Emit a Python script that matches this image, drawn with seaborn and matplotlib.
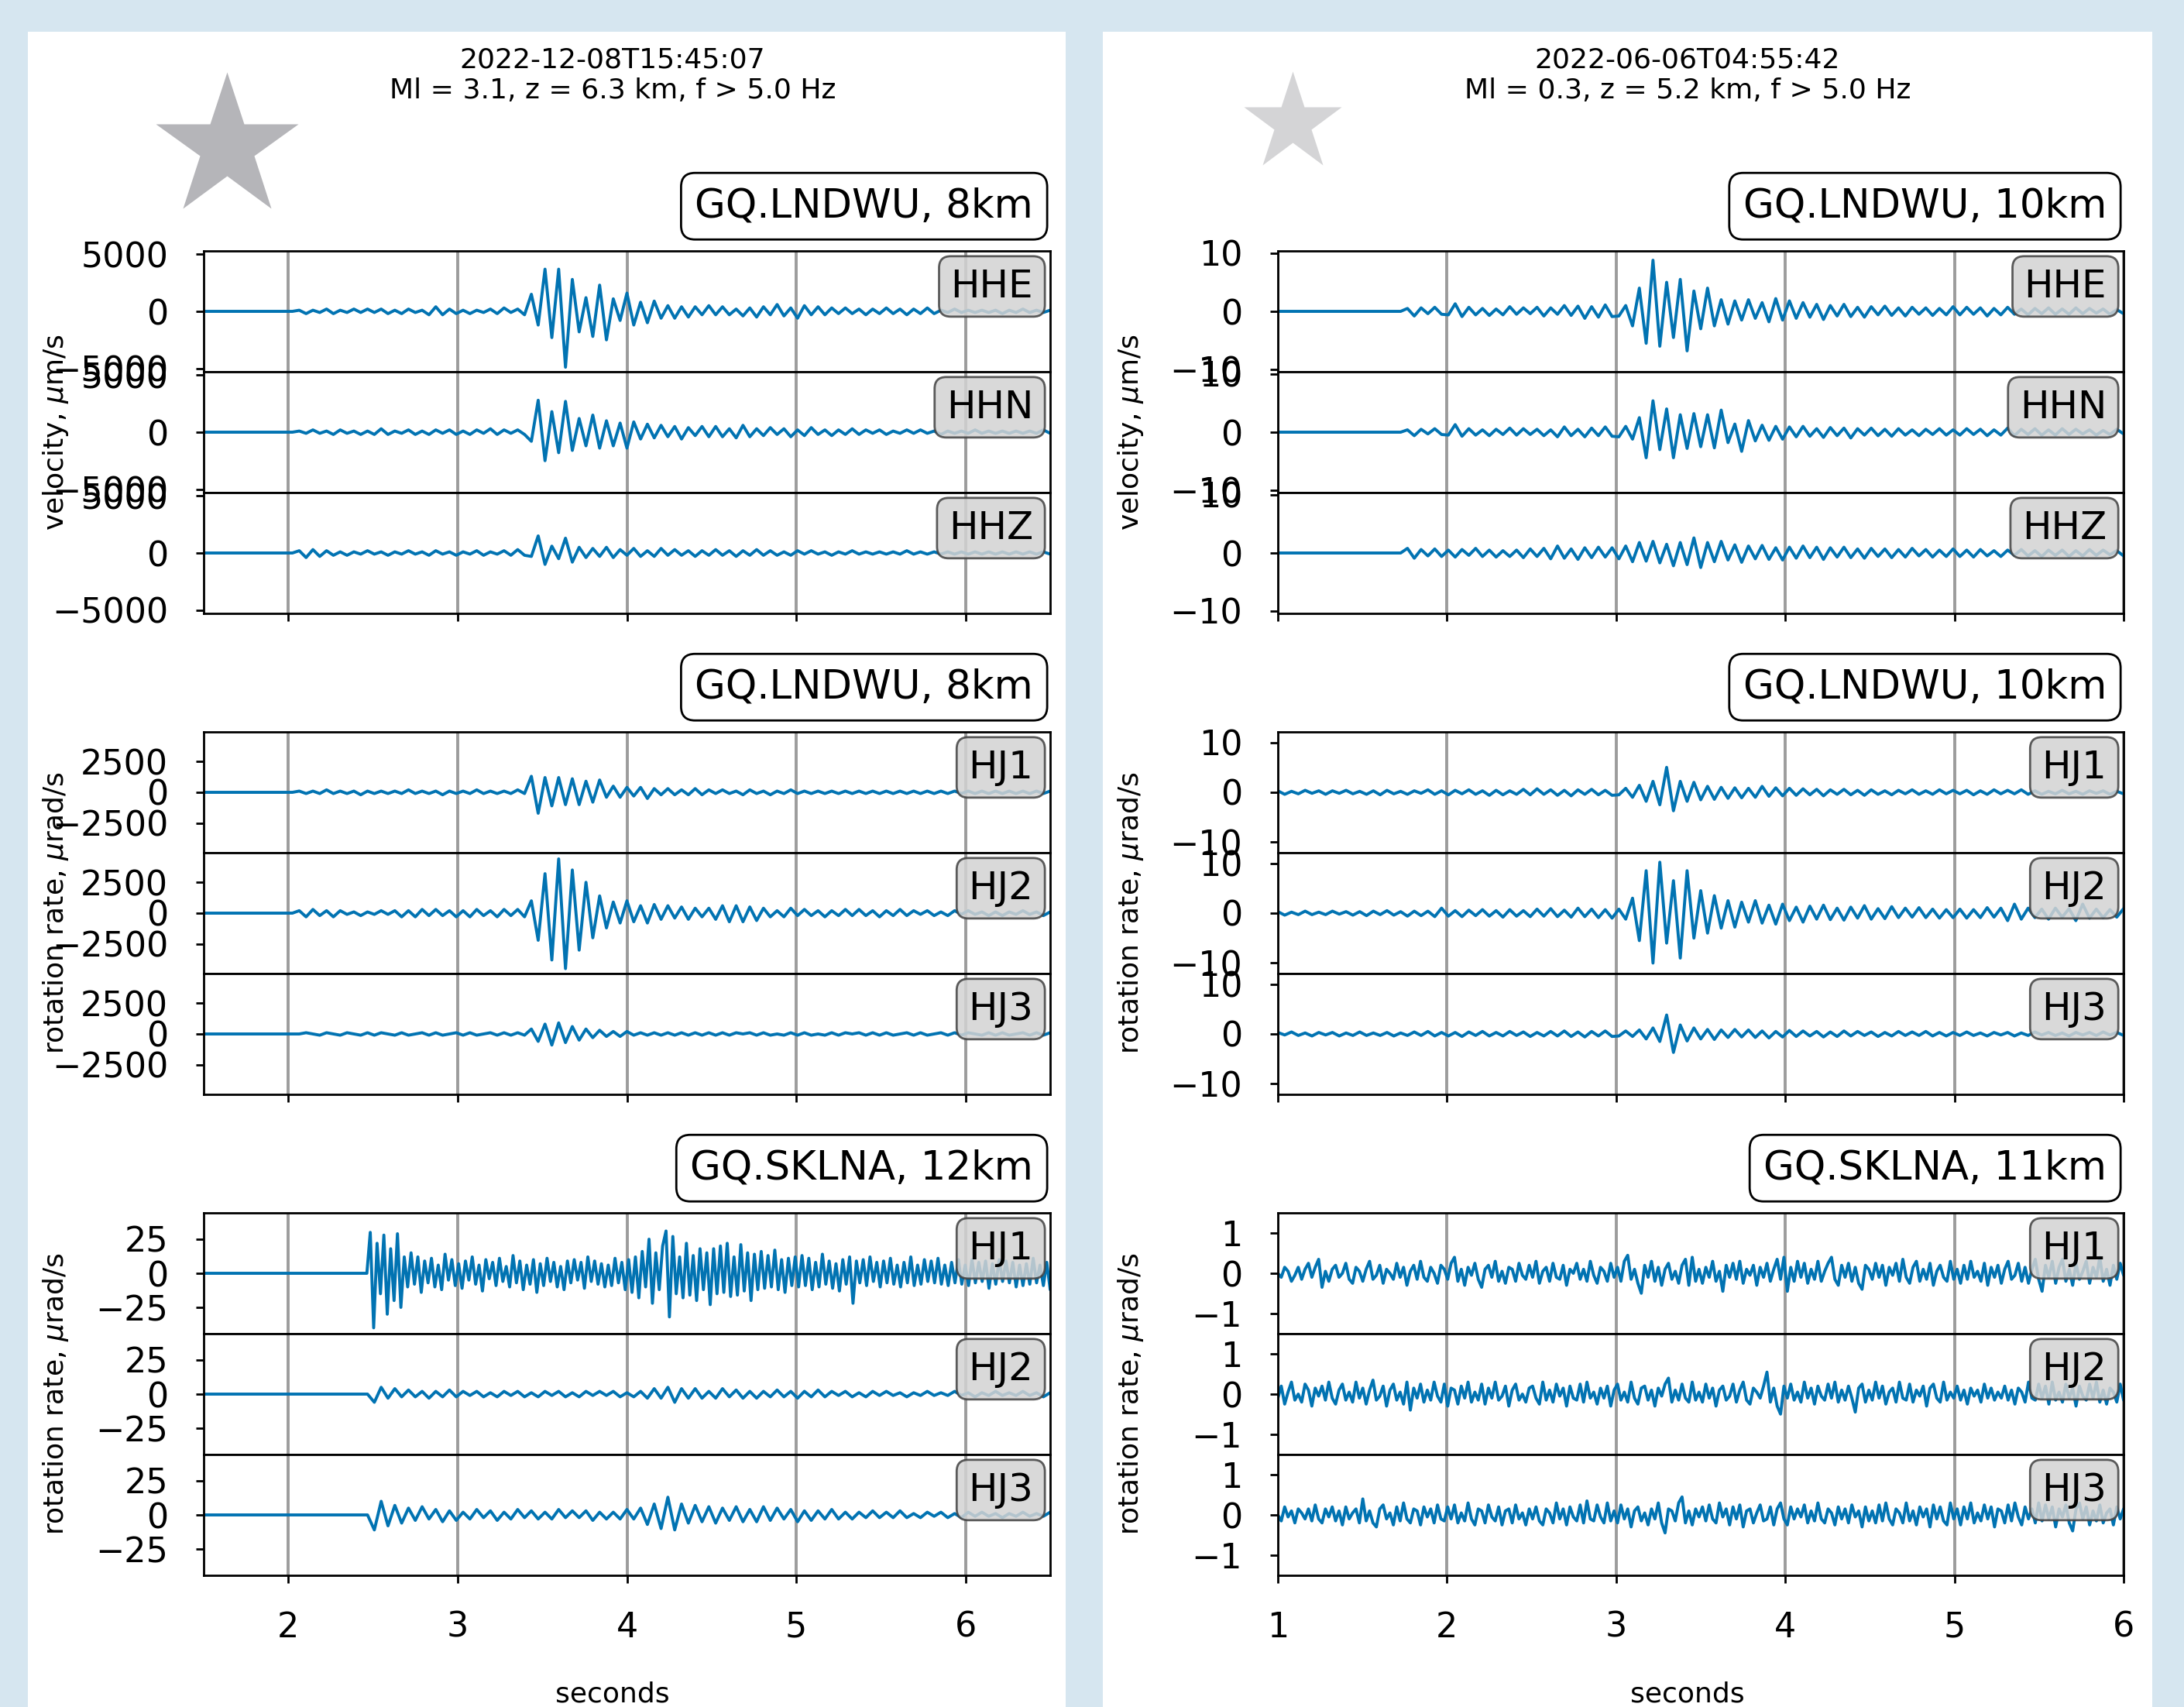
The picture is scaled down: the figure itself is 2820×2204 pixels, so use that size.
import numpy as np
import matplotlib
matplotlib.use("Agg")
import matplotlib.pyplot as plt
from matplotlib.patches import Rectangle
import seaborn as sns

### DATA ###
# Traces are read off the picture: values at a regular step over a 5 s window
# (0.04 s, or 0.02 s for the noisy ones), stored as integers in a per-group unit.

# --- event A : 2022-12-08T15:45:07, window 1.5 .. 6.5 s ---
A_T0 = 1.5
A_TITLE = "2022-12-08T15:45:07\nMl = 3.1, z = 6.3 km, f > 5.0 Hz"
A_STATIONS = ["GQ.LNDWU, 8km", "GQ.LNDWU, 8km", "GQ.SKLNA, 12km"]

A_VEL_UNIT = 100  # um/s
a_hhe = ([0] * 14 + [1, -2, 1, -1, 2, -2, 1, -1, 2, -1, 2]
         + [-1, 2, -2, 1, -2, 2, -1, 1, -3, 4, -3, 2, -2, 1, -2, 1, -1, 2, -2, 3, -1, 2, -3, 15, -12]
         + [37, -23, 37, -49, 28, -18, 12, -22, 23, -25, 11, -8, 16, -12, 8, -10, 9, -6, 5, -6, 4, -5, 4, -3, 5]
         + [-3, 4, -3, 2, -4, 3, -5, 4, -3, 6, -4, 3, -6, 5, -3, 4, -3, 3, -2, 3, -2, 2, -3, 2, -2]
         + [3, -2, 2, -3, 2, -2, 3, -2, 1, -1, 2, -1, 1, -1, 1, -1, 1, -2, 1, -1, 2, -1, 1, -1, 1])
a_hhn = ([0] * 14 + [1, -1, 2, -1, 1, -2, 2, -1, 1, -2, 1]
         + [-2, 3, -2, 1, -1, 2, -2, 1, -2, 2, -1, 2, -2, 1, -2, 2, -1, 3, -2, 2, -1, 2, -2, -8, 28]
         + [-25, 18, -18, 27, -16, 12, -12, 15, -14, 10, -12, 8, -14, 9, -6, 7, -5, 6, -4, 5, -6, 4, -3, 5, -4]
         + [5, -4, 3, -5, 6, -4, 3, -3, 4, -2, 3, -4, 2, -3, 4, -2, 2, -3, 2, -2, 3, -2, 2, -1, 2]
         + [-2, 1, -1, 2, -1, 2, -1, 1, -2, 1, -1, 1, -1, 2, -1, 1, -1, 1, -1, 1, -1, 1, -1, 2, -1])
a_hhz = ([0] * 14 + [2, -4, 3, -3, 2, -2, 1, -2, 1, -1, 2]
         + [-1, 1, -2, 1, -1, 2, -1, 1, -2, 2, -1, 1, -2, 1, -1, 2, -2, 1, -1, 2, -2, 3, -2, -3, 15]
         + [-10, 6, -5, 13, -8, 5, -4, 4, -3, 5, -4, 3, -2, 4, -3, 2, -3, 4, -2, 3, -2, 2, -3, 2, -2]
         + [3, -2, 2, -3, 2, -2, 3, -2, 2, -2, 1, -2, 2, -1, 2, -1, 1, -2, 1, -1, 2, -1, 1, -1, 1]
         + [-1, 1, -1, 2, -1, 1, -1, 1, -1, 1, -1, 1, -1, 1, -1, 1, -1, 1, -1, 1, -1, 1, -1, 1, -1])

A_ROT_UNIT = 100  # urad/s
a_hj1 = ([0] * 14 + [1, -1, 1, -1, 2, -1, 1, -1, 1, -2, 1]
         + [-1, 1, -1, 1, -1, 2, -1, 1, -1, 1, -2, 1, -1, 1, -1, 2, -1, 1, -1, 1, -1, 2, -1, 13, -17]
         + [12, -11, 12, -10, 11, -10, 9, -8, 10, -4, 5, -4, 4, -3, 4, -5, 3, -2, 3, -2, 2, -2, 3, -2, 2]
         + [-1, 2, -1, 1, -2, 2, -1, 1, -2, 1, -1, 2, -1, 1, -1, 1, -1, 1, -1, 1, -1, 1, -1, 1, -1]
         + [1, -1, 1, -1, 1, -1, 1, -1, 1, -1, 1, -1, 1, -1, 1, -1, 1, -1, 1, -1, 1, -1, 1, -1, 1])
a_hj2 = ([0] * 14 + [2, -3, 3, -2, 2, -3, 2, -1, 1, -2, 1]
         + [-1, 2, -1, 2, -3, 2, -3, 3, -2, 3, -2, 2, -3, 2, -3, 3, -2, 2, -3, 3, -2, 3, -3, 10, -22]
         + [32, -38, 44, -45, 35, -30, 25, -20, 14, -12, 9, -8, 10, -7, 6, -8, 7, -5, 6, -4, 5, -5, 4, -3, 4]
         + [-5, 6, -7, 6, -7, 5, -6, 4, -3, 2, -3, 4, -2, 3, -2, 2, -3, 2, -2, 3, -2, 3, -2, 2, -3]
         + [2, -2, 3, -2, 2, -1, 2, -2, 1, -2, 2, -1, 2, -1, 1, -2, 1, -2, 1, -1, 2, -1, 1, -2, 1])
a_hj3 = ([0] * 14 + [0, 1, 0, -1, 1, 0, -1, 1, 0, -1, 1]
         + [-1, 1, 0, -1, 1, -1, 0, 1, -1, 1, -1, 0, 1, -1, 1, -1, 0, 1, -1, 1, -1, 1, -1, 4, -6]
         + [8, -9, 9, -7, 6, -5, 4, -3, 3, -2, 2, -2, 2, -1, 1, -1, 1, -1, 1, -1, 1, -1, 1, -1, 1]
         + [-1, 1, -1, 1, 0, 1, -1, 1, -1, 0, -1, 1, -1, 1, -1, 0, -1, 1, -1, 1, 0, 1, -1, 1, -1]
         + [1, -1, 0, 1, -1, 1, -1, 0, 1, -1, 1, -1, 1, 0, -1, 1, -1, 1, -1, 0, 1, -1, 1, -1, 1])

A_SKL_UNIT = 1  # urad/s
a_skl1 = ([0] * 25
          + [0] * 24 + [30]
          + [-40, 22, -15, 28, -30, 18, -20, 29, -25, 12, -10, 15, -8, 12, -14, 9, -7, 11, -10, 6, -12, 14, -5, 10, -9]
          + [7, -11, 9, -5, 12, -8, 6, -13, 10, -4, 8, -9, 11, -6, 5, -10, 13, -7, 9, -12, 6, -8, 10, -14, 7]
          + [-9, 11, -6, 8, -10, 5, -12, 9, -7, 10, -5, 8, -11, 12, -6, 9, -8, 7, -10, 6, -9, 11, -7, 8, -12]
          + [10, -14, 12, -18, 16, -10, 25, -22, 15, -12, 20, 31, -32, 27, -15, 12, -18, 22, -16, 13, -20, 18, -12, 15, -23]
          + [18, -15, 20, -14, 22, -17, 12, -16, 21, -13, 15, -20, 14, -12, 16, -11, 13, -10, 17, -12, 10, -14, 11, -9, 12]
          + [-10, 13, -9, 11, -12, 8, -10, 14, -8, 9, -11, 7, -13, 10, -8, 12, -22, 9, -7, 10, -9, 12, -6, 8, -10]
          + [9, -7, 11, -8, 6, -10, 8, -7, 12, -9, 6, -8, 10, -6, 9, -7, 11, -8, 6, -9, 8, -7, 10, -8, 6]
          + [-9, 10, -7, 8, -6, 9, -11, 7, -8, 10, -6, 9, -7, 8, -10, 6, -9, 7, -8, 11, -7, 6, -9, 8, -12])
a_skl2 = ([0] * 25
          + [-6, 5, -3, 4, -2, 3, -2, 2, -3, 2, -2, 3, -2, 2, -1, 2, -2, 1, -2, 2, -1, 2, -2, 1, -2]
          + [2, -1, 2, -2, 1, -2, 2, -1, 2, -1, 2, -2, 1, -2, 2, -3, 4, -3, 5, -6, 4, -3, 4, -3, 2]
          + [-3, 4, -2, 3, -3, 2, -3, 2, -2, 3, -2, 2, -3, 2, -2, 3, -2, 2, -1, 2, -2, 1, -2, 2, -1]
          + [2, -1, 1, -2, 1, -1, 2, -1, 1, -1, 2, -1, 1, -2, 1, -1, 2, -1, 1, -1, 2, -1, 1, -2, 1])
a_skl3 = ([0] * 25
          + [-11, 10, -8, 7, -6, 5, -4, 6, -3, 4, -5, 3, -4, 2, -3, 4, -2, 3, -4, 2, -3, 4, -2, 3, -3]
          + [2, -3, 4, -2, 3, -2, 3, -4, 2, -3, 2, -3, 4, -3, 5, -7, 8, -10, 13, -11, 8, -6, 7, -5, 6]
          + [-6, 5, -4, 6, -5, 4, -5, 6, -4, 5, -3, 4, -5, 3, -4, 3, -3, 4, -3, 2, -3, 2, -2, 3, -2]
          + [2, -2, 3, -2, 1, -2, 2, -1, 2, -2, 1, -2, 2, -1, 2, -1, 1, -2, 1, -1, 2, -1, 1, -1, 2])

# --- event B : 2022-06-06T04:55:42, window 1 .. 6 s ---
B_T0 = 1.0
B_TITLE = "2022-06-06T04:55:42\nMl = 0.3, z = 5.2 km, f > 5.0 Hz"
B_STATIONS = ["GQ.LNDWU, 10km", "GQ.LNDWU, 10km", "GQ.SKLNA, 11km"]

B_VEL_UNIT = 0.1  # um/s
b_hhe = ([0] * 19 + [5, -8, 6, -4, 7, -5]
         + [-6, 13, -9, 7, -6, 5, -7, 4, -6, 8, -5, 6, -4, 7, -8, 6, -5, 10, -7, 9, -12, 8, -10, 11, -9]
         + [-8, 10, -25, 40, -55, 88, -60, 50, -45, 55, -68, 35, -30, 40, -25, 20, -22, 18, -15, 20, -12, 15, -18, 22, -15]
         + [18, -12, 15, -10, 12, -14, 10, -8, 12, -9, 7, -10, 8, -6, 9, -7, 6, -8, 7, -5, 6, -7, 5, -6, 8]
         + [-6, 7, -5, 6, -8, 5, -6, 7, -5, 4, -6, 5, -4, 6, -5, 4, -5, 6, -4, 5, -3, 4, -5, 3, -4])
b_hhn = ([0] * 19 + [4, -6, 5, -3, 6, -4]
         + [-5, 13, -7, 6, -5, 4, -6, 5, -4, 7, -5, 6, -4, 5, -6, 4, -8, 9, -6, 5, -8, 7, -6, 9, -7]
         + [-8, 10, -12, 25, -44, 54, -30, 40, -44, 30, -28, 32, -25, 30, -27, 38, -18, 14, -33, 20, -15, 12, -14, 10, -12]
         + [9, -8, 10, -7, 6, -9, 8, -6, 7, -10, 6, -5, 7, -6, 5, -7, 6, -5, 4, -6, 5, -4, 6, -5, 4]
         + [-5, 6, -4, 5, -6, 4, -5, 7, -6, 5, -4, 6, -5, 4, -5, 6, -4, 5, -3, 4, -5, 3, -4, 5, -3])
b_hhz = ([0] * 19 + [8, -9, 6, -5, 7, -6]
         + [5, -7, 6, -4, 8, -6, 5, -7, 4, -6, 5, -8, 7, -6, 8, -10, 12, -9, 7, -11, 9, -8, 10, -7, 9]
         + [-10, 12, -15, 18, -14, 20, -17, 15, -22, 18, -20, 26, -25, 18, -15, 20, -12, 14, -16, 12, -10, 13, -11, 9, -12]
         + [10, -9, 12, -8, 10, -11, 9, -7, 10, -8, 7, -9, 8, -6, 7, -8, 6, -7, 8, -5, 6, -7, 5, -6, 7]
         + [-6, 5, -7, 6, -5, 4, -6, 5, -4, 6, -5, 4, -6, 5, -4, 5, -6, 4, -5, 6, -4, 5, -3, 4, -5])

B_ROT_UNIT = 0.1  # urad/s
b_hj1 = ([3, -4, 2, -3, 4, -2, 3, -4, 3, -2, 4, -3, 2, -4, 3, -5, 4, -3, 2, -4, 3, -2, 5, -4, 3]
         + [-5, 4, -3, 5, -4, 3, -6, 4, -5, 3, -4, 6, -5, 7, -4, 5, -6, 4, -7, 5, -4, 6, -5, 4, -6]
         + [-5, 8, -10, 14, -18, 22, -25, 50, -37, 22, -18, 20, -15, 12, -14, 10, -12, 9, -11, 8, -10, 12, -8, 9, -7]
         + [8, -6, 7, -5, 6, -7, 5, -4, 6, -5, 4, -6, 5, -4, 3, -5, 4, -3, 5, -4, 3, -4, 5, -3, 4]
         + [-3, 4, -5, 3, -4, 5, -3, 4, -3, 5, -4, 3, -4, 2, -3, 4, -3, 2, -4, 3, -2, 3, -4, 2, -3])
b_hj2 = ([3, -4, 2, -3, 4, -3, 2, -3, 4, -2, 3, -4, 3, -5, 4, -3, 5, -4, 3, -6, 4, -5, 4, -7, 10]
         + [-6, 5, -7, 6, -5, 7, -6, 5, -8, 7, -6, 5, -7, 8, -6, 9, -7, 6, -8, 10, -7, 8, -9, 7, -10]
         + [8, -12, 30, -55, 85, -100, 102, -60, 65, -90, 85, -50, 45, -40, 35, -30, 25, -28, 22, -18, 25, -20, 16, -22, 18]
         + [-15, 12, -18, 14, -12, 16, -13, 10, -14, 12, -10, 15, -12, 9, -11, 13, -9, 10, -8, 11, -9, 8, -10, 7, -9]
         + [8, -10, 7, -9, 11, -8, 10, -15, 18, -12, 10, -9, 8, -12, 10, -8, 9, -15, 18, -10, 8, -9, 7, -8, 9])
b_hj3 = ([3, -2, 4, -3, 2, -4, 3, -2, 3, -4, 2, -3, 4, -3, 2, -3, 3, -4, 2, -3, 4, -3, 5, -4, 3]
         + [-4, 3, -5, 4, -3, 5, -4, 3, -4, 5, -3, 4, -5, 3, -4, 5, -4, 6, -5, 4, -6, 5, -4, 6, -5]
         + [-4, 6, -5, 8, -10, 12, -15, 38, -37, 18, -14, 12, -10, 9, -11, 8, -7, 9, -6, 8, -7, 6, -8, 5, -6]
         + [7, -5, 6, -4, 5, -6, 4, -5, 6, -4, 5, -3, 4, -5, 3, -4, 5, -3, 4, -3, 5, -4, 3, -4, 3]
         + [-3, 4, -3, 2, -4, 3, -2, 3, -4, 2, -3, 4, -2, 3, -3, 2, -4, 3, -2, 3, -3, 4, -2, 3, -3])

B_SKL_UNIT = 0.05  # urad/s
b_skl1 = ([0, -2, 3, 1, -4, -1, 3, -3, 2, 5, -2, 3, 7, -7, 1, -4, 2, 4, -2, 0, 5, -3, -5, 3, 1]
          + [-4, 2, 6, -3, -1, 4, -5, 2, 0, -3, 5, -2, 3, -6, 1, 4, -3, 6, -2, -4, 3, 0, -5, 4, 2]
          + [-3, 5, 8, -4, 2, -6, 3, -1, 5, -3, -7, 2, 4, -2, 6, -4, 1, -5, 3, 2, -4, 5, -1, -3, 4]
          + [-2, 6, -5, 1, 3, -4, 5, -2, -3, 4, -6, 2, 0, 5, -3, 2, -4, 6, -1, -5, 3, 1, -4, 5, -2]
          + [3, -4, 6, 9, -3, 2, -5, -10, 4, -2, 6, -4, 3, -6, 2, 5, -3, 1, -5, 4, 7, -6, 8, -4, 2]
          + [-5, 3, -2, 6, -4, 1, -9, 4, -2, 5, -3, 6, -5, 2, -1, 4, -6, 3, -2, 5, -4, 2, 7, -3, 8]
          + [-9, 3, -4, 6, -2, 5, -5, 2, -3, 6, -4, 1, 5, 8, -3, -6, 4, -2, 5, -4, 3, -5, -8, 4, 2]
          + [-3, 5, -2, 4, -6, 3, -1, 5, -4, 7, -2, -5, 3, 6, -4, 2, -3, 5, -6, 1, 4, -2, -4, 6, -3]
          + [2, -5, 4, -3, 6, -2, 1, -4, 5, -6, 3, -2, 4, -5, 2, 6, -3, -1, 5, -4, 3, -5, 2, 7, -3]
          + [-9, 4, -2, 6, -5, 3, 7, -4, 2, -6, 5, -3, 1, 6, -5, 3, -2, 8, -4, 2, -6, 4, -3, 5, -1])
b_skl2 = ([-2, 4, -5, 1, 6, -3, 0, -4, 5, 2, -6, 3, -1, 4, -3, 6, -2, -5, 2, 5, -3, 1, -4, 6, -2]
          + [3, -5, 2, 7, -3, -1, 4, -6, 2, 5, -3, 1, -5, 6, -8, 3, -2, 5, -4, 2, -3, 6, -1, -4, 5]
          + [-6, 3, 2, -5, 4, -2, 6, -4, 1, -3, 5, -5, 3, -2, 6, -3, -1, 4, -6, 2, 5, -3, 0, -4, 3]
          + [4, -2, -5, 6, -3, 2, -4, 5, -1, 3, -6, 4, -2, -3, 5, -4, 6, -2, 1, -5, 3, -2, 4, -6, 2]
          + [5, -3, 1, -4, 6, -2, -5, 3, 4, -3, 2, -6, 3, -1, 5, 8, -4, 2, -3, 5, -2, -4, 6, -3, 1]
          + [-4, 5, -2, 3, -6, 2, 4, -3, -1, 5, -4, 2, 6, -3, -5, 3, 1, -2, 4, 11, -4, 3, -6, -10, 4]
          + [-2, 5, -3, 1, -4, 6, -2, 3, -5, 4, -1, -3, 5, -2, 6, -4, 2, -3, 4, -2, -9, 3, 5, -4, 2]
          + [-3, 6, -2, 4, -5, 1, 3, -4, 6, -2, -3, 5, -4, 2, -1, 4, -6, 3, 5, -2, -4, 6, -3, 1, -2]
          + [4, -3, 2, -5, 3, -1, 2, -4, 5, -2, 3, -3, 1, -2, 4, -3, 2, -5, 3, 1, -4, 6, -2, -3, 5]
          + [-2, 4, -5, 6, -3, 1, -4, 5, -2, 3, -6, 4, -1, -3, 5, -2, 6, -4, 2, -5, 3, 1, -4, 5, -3])
b_skl3 = ([0, -3, 4, -1, 2, -4, 3, 1, -2, 3, -3, 5, -2, -4, 3, -1, 4, -3, 2, -5, 4, -2, 1, 3, -4]
          + [8, -3, 2, -4, -6, 3, 5, -2, 1, -5, 4, -3, 6, -2, -4, 3, 2, -5, 4, -1, 3, -4, 5, -2, -3]
          + [4, -2, 5, -4, 1, -3, 6, -2, -5, 3, 2, -4, 5, -1, -3, 4, -5, 2, 3, -4, 5, -2, 1, -5, 3]
          + [-2, 4, -3, -5, 3, 1, -4, 6, -2, 3, -5, 4, -1, -3, 5, -4, 7, -2, -3, 5, -1, -4, 6, -3, 2]
          + [-4, 5, -2, 3, -6, 2, 4, -3, 1, -5, 3, -2, 6, -4, -9, 3, 2, -3, 6, 9, -4, 2, -5, 3, -1]
          + [4, -3, 5, -2, -4, 6, -1, 3, -5, 4, -2, 5, -6, 2, 3, -4, 1, 5, -3, -2, 4, -5, 3, 6, -2]
          + [-5, 4, -2, 3, -1, 5, -4, 2, -3, 6, -2, -4, 3, 1, -5, 4, -2, 3, -4, 5, -1, 2, -6, 4, -3]
          + [2, -4, 5, -3, 6, -2, -5, 3, 1, -4, 6, -3, 2, -5, 4, -1, 3, -6, 5, -2, 4, -3, -5, 6, -2]
          + [3, -5, 4, -2, 6, -4, 1, -3, 5, -2, 4, -6, 3, 2, -4, 5, -3, 6, -1, -5, 4, -2, 3, -4, 6]
          + [-3, 5, -2, 4, -6, 3, -1, 5, -4, -8, 3, 6, -2, 4, -5, 2, -3, 5, -4, 1, 3, -5, 4, -2, 3])

VEL_LABEL = "velocity, $\\mu$m/s"
ROT_LABEL = "rotation rate, $\\mu$rad/s"

### LAYOUT (pixels of the 2820x2204 output) ###
W, H, DPI = 2820, 2204, 200
BG = "#d6e6f0"
LINE = sns.color_palette("colorblind")[0]
GROUP_TOP = [324, 945, 1566]
SUB_H = 156

def px_axes(fig, left, top, width, height):
    return fig.add_axes([left / W, 1 - (top + height) / H, width / W, height / H])

sns.set_style("ticks")
plt.rcParams.update({
    "font.family": ["DejaVu Sans"],
    "axes.edgecolor": "black", "axes.linewidth": 1.0,
    "text.color": "black", "axes.labelcolor": "black",
    "xtick.color": "black", "ytick.color": "black",
})

events = [
    dict(t0=A_T0, title=A_TITLE, stations=A_STATIONS, xlim=(1.5, 6.5), xticks=[2, 3, 4, 5, 6],
         panel=(36, 1376), ax_x=(263, 1093), text_x=791, star=(293, 190, 70, "#b5b5b9"),
         groups=[
             dict(unit=A_VEL_UNIT, lim=5300, ticks=[-5000, 0, 5000], label=VEL_LABEL,
                  traces=[("HHE", a_hhe), ("HHN", a_hhn), ("HHZ", a_hhz)]),
             dict(unit=A_ROT_UNIT, lim=4900, ticks=[-2500, 0, 2500], label=ROT_LABEL,
                  traces=[("HJ1", a_hj1), ("HJ2", a_hj2), ("HJ3", a_hj3)]),
             dict(unit=A_SKL_UNIT, lim=44.3, ticks=[-25, 0, 25], label=ROT_LABEL,
                  traces=[("HJ1", a_skl1), ("HJ2", a_skl2), ("HJ3", a_skl3)]),
         ]),
    dict(t0=B_T0, title=B_TITLE, stations=B_STATIONS, xlim=(1, 6), xticks=[1, 2, 3, 4, 5, 6],
         panel=(1424, 2779), ax_x=(1650, 1092), text_x=2179, star=(1669, 159, 48, "#d4d4d6"),
         groups=[
             dict(unit=B_VEL_UNIT, lim=10.4, ticks=[-10, 0, 10], label=VEL_LABEL,
                  traces=[("HHE", b_hhe), ("HHN", b_hhn), ("HHZ", b_hhz)]),
             dict(unit=B_ROT_UNIT, lim=12.1, ticks=[-10, 0, 10], label=ROT_LABEL,
                  traces=[("HJ1", b_hj1), ("HJ2", b_hj2), ("HJ3", b_hj3)]),
             dict(unit=B_SKL_UNIT, lim=1.51, ticks=[-1, 0, 1], label=ROT_LABEL,
                  traces=[("HJ1", b_skl1), ("HJ2", b_skl2), ("HJ3", b_skl3)]),
         ]),
]

fig = plt.figure(figsize=(W / DPI, H / DPI), dpi=DPI, facecolor=BG)
deco = fig.add_axes([0, 0, 1, 1], zorder=-1)
deco.set_xlim(0, W)
deco.set_ylim(H, 0)
deco.axis("off")

for ev in events:
    x0, x1 = ev["panel"]
    deco.add_patch(Rectangle((x0, 41), x1 - x0, H - 41, facecolor="white", edgecolor="none"))
    sx, sy, sz, sc = ev["star"]
    deco.plot([sx], [sy], marker="*", markersize=sz, color=sc, markeredgecolor="none")
    fig.text(ev["text_x"] / W, 1 - 97 / H, ev["title"], ha="center", va="center",
             fontsize=13, linespacing=1.2)
    fig.text(ev["text_x"] / W, 1 - 2187 / H, "seconds", ha="center", va="center", fontsize=13)

    left, width = ev["ax_x"]
    for g, grp in enumerate(ev["groups"]):
        axes = []
        for k, (chan, vals) in enumerate(grp["traces"]):
            ax = px_axes(fig, left, GROUP_TOP[g] + k * SUB_H, width, SUB_H)
            t = np.linspace(ev["t0"], ev["t0"] + 5, len(vals))
            sns.lineplot(x=t, y=np.asarray(vals) * grp["unit"], ax=ax, color=LINE,
                         linewidth=1.4, legend=False)
            ax.set_xlim(*ev["xlim"])
            ax.set_ylim(-grp["lim"], grp["lim"])
            ax.set_xticks(ev["xticks"])
            ax.set_yticks(grp["ticks"])
            ax.set_xlabel("")
            ax.set_ylabel("")
            ax.grid(axis="x", color="#9c9c9c", linewidth=1.4)
            ax.set_axisbelow(True)
            ax.tick_params(labelsize=16, pad=13, length=3.5, width=1.0)
            if k < 2:
                ax.tick_params(axis="x", bottom=False, labelbottom=False)
            elif g < 2:
                ax.tick_params(axis="x", labelbottom=False)
            ax.text(0.98, 0.86, chan, transform=ax.transAxes, ha="right", va="top",
                    fontsize=18, zorder=5,
                    bbox=dict(boxstyle="round,pad=0.3", facecolor="lightgray",
                              edgecolor="0.25", alpha=0.85))
            axes.append(ax)
        axes[1].set_ylabel(grp["label"], fontsize=13)
        axes[1].yaxis.set_label_coords(-0.157, 0.5)
        axes[0].text(0.98, 1.21, ev["stations"][g], transform=axes[0].transAxes,
                     ha="right", va="bottom", fontsize=18.5,
                     bbox=dict(boxstyle="round,pad=0.35", facecolor="white", edgecolor="black"))

fig.savefig("out.png", dpi=DPI, facecolor=BG)
